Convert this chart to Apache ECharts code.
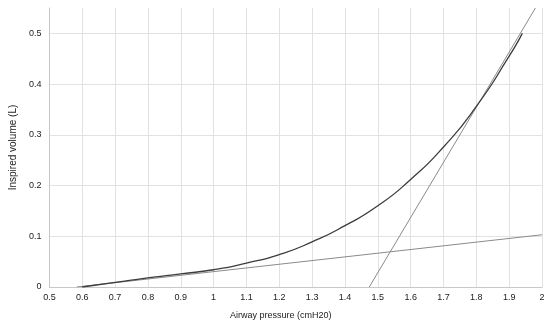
<!DOCTYPE html>
<html>
<head>
<meta charset="utf-8">
<script src="https://cdn.jsdelivr.net/npm/echarts@6/dist/echarts.min.js"></script>
<style>
html,body{margin:0;padding:0;background:#fff;}
#chart_main{width:550px;height:325px;}
</style>
</head>
<body>
<div id="chart_main"></div>
<script type="text/javascript">
// pressure-volume curve
var curveX = [0.6, 0.7, 0.8, 0.9, 1.0, 1.1, 1.2, 1.3, 1.4, 1.5, 1.6, 1.7, 1.8, 1.9, 1.94];
var curveY = [0, 0.009, 0.018, 0.026, 0.034, 0.047, 0.064, 0.089, 0.121, 0.16, 0.212, 0.276, 0.356, 0.455, 0.5];
// low tangent
var lowX = [0.583, 2.0];
var lowY = [0, 0.103];
// high tangent
var highX = [1.474, 1.98];
var highY = [0, 0.55];

function pairs(xs, ys){
	var out = [];
	for(var i=0;i<xs.length;i++){
		out.push([xs[i], ys[i]]);
	}
	return out;
}

var myChart = echarts.init(document.getElementById('chart_main'));
var font = 'Liberation Sans, Arial, sans-serif';
var option = {
	animation: false,
	grid: {left: 44, right: 8, top: 8, bottom: 38, containLabel: false},
	xAxis: {
		type: 'value', min: 0.5, max: 2, interval: 0.1,
		name: 'Airway pressure (cmH20)', nameLocation: 'middle', nameGap: 24,
		nameTextStyle: {fontFamily: font, fontSize: 9, color: '#222', padding: [0, 30, 0, 0]},
		axisLine: {show: true, lineStyle: {color: '#c8c8c8', width: 1}},
		axisTick: {show: false},
		axisLabel: {
			fontFamily: font, fontSize: 9, color: '#222', margin: 6,
			formatter: function(v){ return String(+v.toFixed(1)); }
		},
		splitLine: {show: true, lineStyle: {color: '#e2e2e2', width: 1}}
	},
	yAxis: {
		type: 'value', min: 0, max: 0.55, interval: 0.1,
		name: 'Inspired volume (L)', nameLocation: 'middle', nameGap: 31, nameRotate: 90,
		nameTextStyle: {fontFamily: font, fontSize: 10, color: '#222'},
		axisLine: {show: true, lineStyle: {color: '#c8c8c8', width: 1}},
		axisTick: {show: false},
		axisLabel: {
			fontFamily: font, fontSize: 9, color: '#222', margin: 8, showMaxLabel: false,
			formatter: function(v){ return String(+v.toFixed(1)); }
		},
		splitLine: {show: true, showMaxLine: false, lineStyle: {color: '#e2e2e2', width: 1}}
	},
	series: [
		{
			type: 'line', data: pairs(lowX, lowY), symbol: 'none',
			lineStyle: {color: '#8a8a8a', width: 1}, z: 2
		},
		{
			type: 'line', data: pairs(highX, highY), symbol: 'none',
			lineStyle: {color: '#8a8a8a', width: 1}, z: 2
		},
		{
			type: 'line', data: pairs(curveX, curveY), symbol: 'none', smooth: 0.6,
			lineStyle: {color: '#3c3c3c', width: 1.3}, z: 3
		}
	]
};
myChart.setOption(option);
</script>
</body>
</html>
